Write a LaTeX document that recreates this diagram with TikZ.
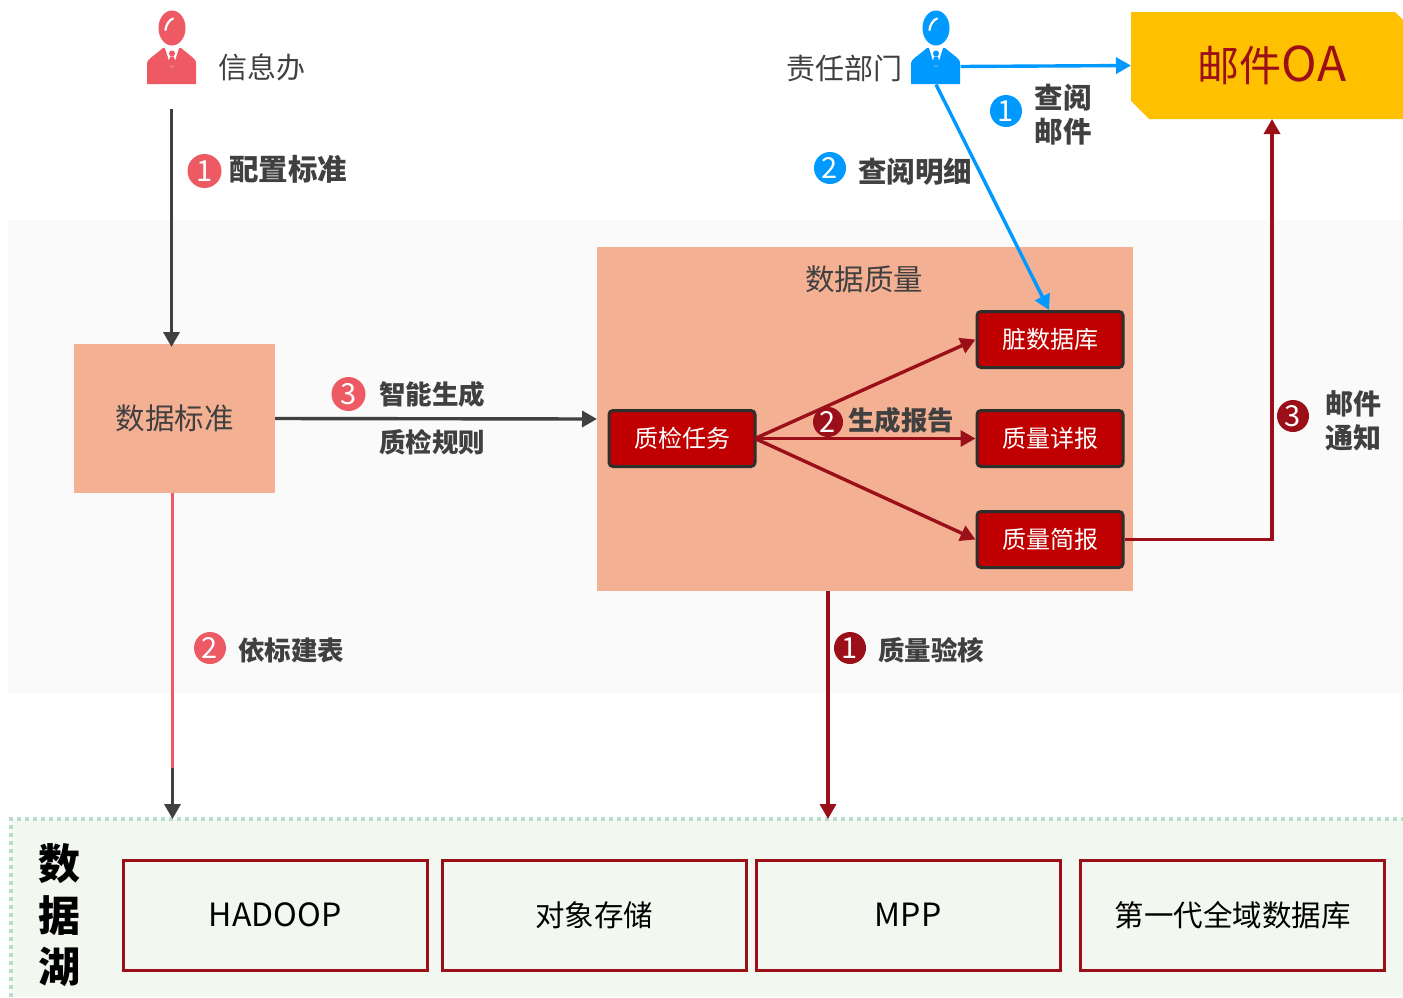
\documentclass[tikz,border=0pt]{standalone}
\usepackage{fontspec}
\setmainfont{Noto Sans CJK SC}
\usetikzlibrary{arrows.meta}
\definecolor{txtgray}{HTML}{404040}
\definecolor{pinkc}{HTML}{EE5A64}
\definecolor{bluec}{HTML}{0099FF}
\definecolor{darkred}{HTML}{9A0F18}
\definecolor{salmon}{HTML}{F4B093}
\definecolor{boxred}{HTML}{C00000}
\definecolor{boxedge}{HTML}{2E2E2E}
\definecolor{lakebg}{HTML}{F2F7F0}
\definecolor{lakeline}{HTML}{B8DCCB}
\definecolor{bandbg}{HTML}{FAFAFA}
\definecolor{oafill}{HTML}{FFC000}
\newcommand{\fsz}[1]{\fontsize{#1}{#1}\selectfont}
\tikzset{
  x=1pt,y=-1pt,
  every node/.style={inner sep=0pt,outer sep=0pt},
  tip/.style={-{Triangle[length=15pt,width=16pt]}},
  conn/.style={line width=3.4pt,tip},
  badge/.style={circle,minimum size=#1,text=white,font=\fsz{29}},
  boldlab/.style={text=txtgray,font=\fsz{#1}\bfseries,align=center},
  plainlab/.style={text=txtgray,font=\fsz{29}},
  redbox/.style={draw=boxedge,line width=3pt,fill=boxred,rounded corners=4pt,text=white,font=\fsz{24},minimum width=146pt,minimum height=56pt},
  salmonbox/.style={fill=salmon},
  lakebox/.style={draw=darkred,line width=3pt,text=black,font=\fsz{29.5},minimum width=304pt,minimum height=110pt},
  persontag/.style={minimum width=49pt,minimum height=36pt},
  person/.pic={
    \fill[#1] (0,28) ellipse [x radius=13.5,y radius=17.5];
    \draw[white,line width=2.2pt,line cap=round] (-6.5,30) .. controls (-6,25) and (-3,20) .. (1,18.5);
    \fill[#1] (-25,84) -- (-25,63) .. controls (-24,59) and (-21,58) .. (-9,48)
      -- (9,48) .. controls (21,58) and (24,59) .. (24,63) -- (24,84) -- cycle;
    \fill[white] (-7,48) -- (7,48) -- (1,67) -- (-1,67) -- cycle;
    \fill[#1] (0,53.5) ellipse [x radius=3,y radius=3];
    \fill[#1] (-1.8,56.5) -- (1.8,56.5) -- (3.5,62) -- (0,67.5) -- (-3.5,62) -- cycle;
  }
}
\begin{document}
\begin{tikzpicture}
\useasboundingbox (0,0) rectangle (1403,997);
% backgrounds
\fill[bandbg] (8,220) rectangle (1403,693);
\fill[lakebg] (11,819) rectangle (1403,997);
\draw[lakeline,line width=3.5pt,dash pattern=on 4pt off 4pt] (11,997) -- (11,819) -- (1403,819);
% persons
\pic at (172,0) {person=pinkc};
\pic at (936,0) {person=bluec};
\node[persontag] (xxb) at (172,66) {};
\node[persontag] (zrbm) at (936,66.5) {};
\coordinate (xxbfoot) at (171.5,109);
\node[plainlab] (xxblab) at (262,67) {信息办};
\node[plainlab] (zrbmlab) at (844.5,68) {责任部门};
% mail
\fill[oafill] (1131,12) -- (1395,12) -- (1403,20) -- (1403,119) -- (1149,119) -- (1131,101) -- cycle;
\node[minimum width=272pt,minimum height=107pt] (oa) at (1267,65.5) {};
\node[text=darkred,font=\fsz{42}] (oalab) at (1272,65) {邮件\fsz{48}OA};
% main boxes
\node[salmonbox,minimum width=201pt,minimum height=149pt,text=txtgray,font=\fsz{29.5}] (std) at (174.5,418.5) {数据标准};
\node[salmonbox,minimum width=536pt,minimum height=344pt] (dq) at (865,419) {};
\node[text=txtgray,font=\fsz{29.5}] (dqlab) at (864,279) {数据质量};
\node[redbox] (task) at (682,438.5) {质检任务};
\node[redbox] (dirty) at (1050,339.5) {脏数据库};
\node[redbox] (detail) at (1050,438.5) {质量详报};
\node[redbox] (brief) at (1050,539.5) {质量简报};
% lake
\node[font=\fsz{42}\bfseries,text=black] (lakea) at (59,864) {数};
\node[font=\fsz{42}\bfseries,text=black] (lakeb) at (59,916) {据};
\node[font=\fsz{42}\bfseries,text=black] (lakec) at (59,967) {湖};
\node[lakebox,font=\fsz{32}] (hadoop) at (275,915) {HADOOP};
\node[lakebox] (oss) at (594,915) {对象存储};
\node[lakebox,font=\fsz{32}] (mpp) at (908,915) {MPP};
\node[lakebox] (gen) at (1232.5,915) {第一代全域数据库};
\coordinate (lakeL) at (172.5,819);
\coordinate (lakeM) at (828,819);
\coordinate (pinkend) at (172.5,768);
% connectors
\draw[conn,txtgray] (xxbfoot) -- (171.5,347);
\draw[conn,txtgray] (std.east) -- (dq.west);
\draw[line width=3.4pt,pinkc] (172.5,493) -- (pinkend);
\draw[conn,txtgray] (pinkend) -- (lakeL);
\draw[conn,darkred] (828,591) -- (lakeM);
\draw[conn,bluec] (zrbm.east) -- (oa.west);
\draw[conn,bluec] (zrbm.south) -- (1049,310);
\draw[conn,darkred] (task.east) -- ([xshift=-1.5pt]dirty.west);
\draw[conn,darkred] (task.east) -- ([xshift=-1.5pt]detail.west);
\draw[conn,darkred] (task.east) -- ([xshift=-1.5pt]brief.west);
\draw[conn,darkred] ([xshift=1.5pt]brief.east) -| (1272,119);
% badges and labels
\node[badge=34pt,fill=pinkc] (b1) at (204.5,171) {1};
\node[boldlab=29.5] (l1) at (288,169) {配置标准};
\node[badge=34pt,fill=pinkc] (b3) at (348.5,394) {3};
\node[boldlab=26.5] (l3a) at (432,394) {智能生成};
\node[boldlab=26.5] (l3b) at (432,442) {质检规则};
\node[badge=32pt,fill=pinkc] (b2) at (210,648) {2};
\node[boldlab=26.5] (l2) at (291,650) {依标建表};
\node[badge=32pt,fill=bluec] (bb1) at (1006,111) {1};
\node[boldlab=28.5] (lb1) at (1063,98) {查阅};
\node[boldlab=28.5] (lb1b) at (1063,132) {邮件};
\node[badge=32pt,fill=bluec] (bb2) at (830,168) {2};
\node[boldlab=28.5] (lb2) at (915,172) {查阅明细};
\node[badge=32pt,fill=darkred] (r1) at (850,648) {1};
\node[boldlab=26.5] (lr1) at (931,650) {质量验核};
\node[badge=30pt,fill=darkred] (r2) at (828,422) {2};
\node[boldlab=26.5] (lr2) at (901,420) {生成报告};
\node[badge=32pt,fill=darkred] (r3) at (1293,416) {3};
\node[boldlab=28] (lr3) at (1353,404) {邮件};
\node[boldlab=28] (lr3b) at (1353,438) {通知};
\end{tikzpicture}
\end{document}
